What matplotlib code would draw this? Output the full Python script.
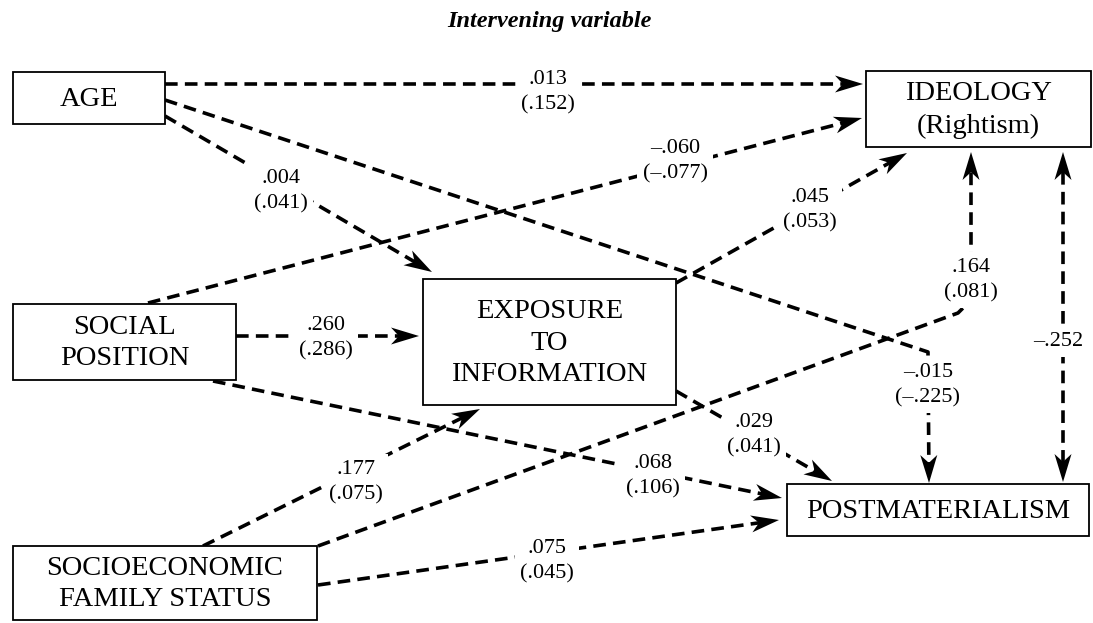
import matplotlib
matplotlib.use("Agg")
import matplotlib.pyplot as plt
from matplotlib.patches import Rectangle, Polygon
import numpy as np

# path coefficients: direct effect and (total effect)
paths = [
    "AGE-IDEOLOGY", "AGE-EXPOSURE", "AGE-POSTMAT",
    "SOCIAL-IDEOLOGY", "EXPOSURE-IDEOLOGY", "SOCIAL-EXPOSURE",
    "SOCIAL-POSTMAT", "SES-EXPOSURE", "SES-IDEOLOGY",
    "EXPOSURE-POSTMAT", "SES-POSTMAT",
]
direct_effect = [0.013, 0.004, -0.015, -0.060, 0.045, 0.260, 0.068, 0.177, 0.164, 0.029, 0.075]
total_effect = [0.152, 0.041, -0.225, -0.077, 0.053, 0.286, 0.106, 0.075, 0.081, 0.041, 0.045]
ideology_postmat_corr = -0.252

node_names = ["AGE", "IDEOLOGY", "SOCIAL", "EXPOSURE", "POSTMAT", "SES"]
node_labels = ["AGE", "IDEOLOGY\n(Rightism)", "SOCIAL\nPOSITION", "EXPOSURE\nTO\nINFORMATION",
               "POSTMATERIALISM", "SOCIOECONOMIC\nFAMILY STATUS"]

# layout (pixel space of the 1093x623 canvas)
boxes = {
    "AGE": (13, 72, 165, 124),
    "IDEOLOGY": (866, 71, 1091, 147),
    "SOCIAL": (13, 304, 236, 380),
    "EXPOSURE": (423, 279, 676, 405),
    "POSTMAT": (787, 484, 1089, 536),
    "SES": (13, 546, 317, 620),
}
routes = {
    "AGE-IDEOLOGY": [(165, 84), (863, 84)],
    "AGE-EXPOSURE": [(165, 116), (432, 272)],
    "AGE-POSTMAT": [(165, 100), (928, 352), (929, 483)],
    "SOCIAL-IDEOLOGY": [(148, 303), (862, 118)],
    "EXPOSURE-IDEOLOGY": [(676, 283), (907, 153)],
    "SOCIAL-EXPOSURE": [(236, 336), (419, 336)],
    "SOCIAL-POSTMAT": [(213, 381), (782, 498)],
    "SES-EXPOSURE": [(203, 546), (480, 409)],
    "SES-IDEOLOGY": [(318, 546), (958, 313), (971, 300), (971, 152)],
    "EXPOSURE-POSTMAT": [(676, 391), (832, 481)],
    "SES-POSTMAT": [(318, 585), (779, 520)],
}
label_pos = {
    "AGE-IDEOLOGY": (548, 92),
    "AGE-EXPOSURE": (281, 191),
    "AGE-POSTMAT": (928, 385),
    "SOCIAL-IDEOLOGY": (675, 161),
    "EXPOSURE-IDEOLOGY": (810, 210),
    "SOCIAL-EXPOSURE": (326, 338),
    "SOCIAL-POSTMAT": (653, 476),
    "SES-EXPOSURE": (356, 482),
    "SES-IDEOLOGY": (971, 280),
    "EXPOSURE-POSTMAT": (754, 435),
    "SES-POSTMAT": (547, 561),
}

SERIF = ["Liberation Serif", "DejaVu Serif"]
DASH = (0, (3.5, 2.0))


def fmt(v):
    s = f"{abs(v):.3f}".lstrip("0")
    return ("\u2013" if v < 0 else "") + s


def head(ax, p_from, tip, length=28, half=8.5):
    p_from = np.asarray(p_from, float)
    tip = np.asarray(tip, float)
    u = tip - p_from
    u /= np.hypot(*u)
    n = np.array([-u[1], u[0]])
    pts = [tip, tip - length * u + half * n, tip - 0.72 * length * u, tip - length * u - half * n]
    ax.add_patch(Polygon(pts, closed=True, color="black", lw=0, zorder=2))
    return tip - 0.7 * length * u


def dashed(ax, pts, both=False):
    pts = [np.asarray(p, float) for p in pts]
    pts[-1] = head(ax, pts[-2], pts[-1])
    if both:
        pts[0] = head(ax, pts[1], pts[0])
    xs = [p[0] for p in pts]
    ys = [p[1] for p in pts]
    ax.plot(xs, ys, color="black", lw=2.6, linestyle=DASH, dash_capstyle="butt", zorder=1)


fig = plt.figure(figsize=(10.93, 6.23), dpi=100)
ax = fig.add_axes([0, 0, 1, 1])
ax.set_xlim(0, 1093)
ax.set_ylim(623, 0)
ax.axis("off")

ax.text(549, 21, "Intervening variable", ha="center", va="center", family=SERIF,
        fontsize=17.5, fontweight="bold", fontstyle="italic")

for name, label in zip(node_names, node_labels):
    x0, y0, x1, y1 = boxes[name]
    ax.add_patch(Rectangle((x0, y0), x1 - x0, y1 - y0, facecolor="white",
                           edgecolor="black", lw=1.3, zorder=4))
    ax.text((x0 + x1) / 2, (y0 + y1) / 2 + 1, label, ha="center", va="center",
            family=SERIF, fontsize=20.5, linespacing=1.36, zorder=5)

for path, d, t in zip(paths, direct_effect, total_effect):
    dashed(ax, routes[path])
    lx, ly = label_pos[path]
    ax.text(lx, ly, f"{fmt(d)}\n({fmt(t)})", ha="center", va="center", family=SERIF,
            fontsize=16, linespacing=1.45, zorder=3,
            bbox=dict(facecolor="white", edgecolor="none", pad=4))

# correlation between the two outcomes
dashed(ax, [(1063, 152), (1063, 482)], both=True)
ax.text(1058, 342, fmt(ideology_postmat_corr), ha="center", va="center", family=SERIF,
        fontsize=16, zorder=3, bbox=dict(facecolor="white", edgecolor="none", pad=4))

fig.savefig("out.png", dpi=100)
